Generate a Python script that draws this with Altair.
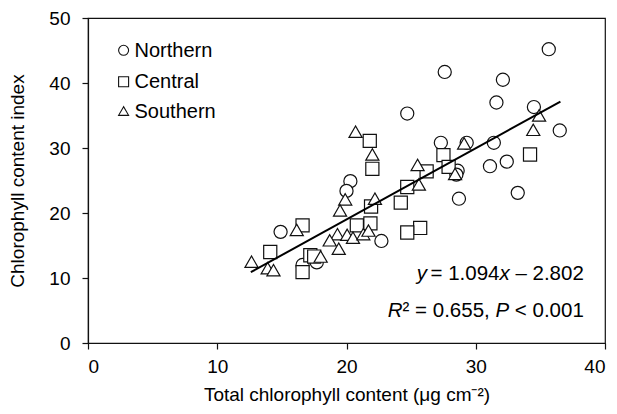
import altair as alt
import pandas as pd

FONT = "Liberation Sans"

regions = ["Northern", "Central", "Southern"]
shapes = ["circle", "square", "triangle-up"]

north_x = [35.65, 27.6, 32.1, 31.6, 34.5, 24.7, 36.5, 27.3, 29.3, 31.4, 32.4, 31.1,
           28.6, 28.5, 28.7, 33.25, 20.3, 20.0, 14.9, 22.7, 16.6, 17.7]
north_y = [45.2, 41.7, 40.5, 37.0, 36.3, 35.3, 32.7, 30.8, 30.8, 30.8, 27.9, 27.2,
           26.5, 25.9, 22.2, 23.1, 24.9, 23.4, 17.1, 15.7, 12.0, 12.4]
central_x = [34.2, 27.5, 27.9, 26.2, 24.7, 24.2, 25.7, 24.7, 21.8, 22.0, 21.9, 21.85,
             20.8, 16.6, 14.1, 16.6, 17.2, 17.5]
central_y = [29.0, 28.9, 27.1, 26.4, 24.0, 21.6, 17.7, 17.0, 31.1, 26.8, 21.0, 18.4,
             18.1, 18.1, 14.0, 10.9, 13.5, 13.3]
south_x = [34.9, 34.45, 29.1, 25.5, 28.4, 25.6, 20.7, 22.0, 22.2, 19.9, 19.5, 19.3,
           20.05, 20.5, 21.3, 21.7, 18.7, 19.4, 18.0, 16.15, 12.65, 13.9, 14.35]
south_y = [35.0, 32.8, 30.7, 27.4, 26.0, 24.4, 32.5, 29.0, 22.2, 22.1, 20.4, 16.75,
           16.65, 16.2, 16.75, 17.3, 15.8, 14.5, 13.3, 17.4, 12.5, 11.5, 11.2]

# regression line endpoints
line_x = [12.6, 36.55]
line_y = [10.9, 37.15]

# annotation anchor (right edge, baselines) in data units
ann_x = 38.36
ann_y = [9.64, 3.96]
eq_parts = ["y", "= 1.094", "x", "– 2.802"]
eq_italic = [True, False, True, False]
r2_parts = ["R", "² = 0.655,", "P", "< 0.001"]
r2_italic = [True, False, True, False]

x_ticks = [0, 10, 20, 30, 40]
y_ticks = [0, 10, 20, 30, 40, 50]

rows = []
for name, xs, ys in [("Northern", north_x, north_y), ("Central", central_x, central_y),
                     ("Southern", south_x, south_y)]:
    for a, b in zip(xs, ys):
        rows.append({"region": name, "tcc": a, "cci": b})
df = pd.DataFrame(rows)
df["order"] = df["region"].map({r: i for i, r in enumerate(regions)})

xscale = alt.Scale(domain=[0, 40], nice=False, zero=False)
yscale = alt.Scale(domain=[0, 50], nice=False, zero=False)
shape_scale = alt.Scale(domain=regions, range=shapes)

STROKE = "#111111"

points = alt.Chart(df).mark_point(
    filled=False, fill="white", color=STROKE, strokeWidth=1.2, size=172, opacity=1
).encode(
    x=alt.X("tcc:Q", scale=xscale, axis=alt.Axis(values=x_ticks, title="Total chlorophyll content (μg cm⁻²)")),
    y=alt.Y("cci:Q", scale=yscale, axis=alt.Axis(values=y_ticks, title="Chlorophyll content index")),
    shape=alt.Shape("region:N", scale=shape_scale, legend=None),
    order=alt.Order("order:Q"),
)

line_df = pd.DataFrame({"tcc": line_x, "cci": line_y})
line = alt.Chart(line_df).mark_line(color="black", strokeWidth=2).encode(
    x=alt.X("tcc:Q", scale=xscale), y=alt.Y("cci:Q", scale=yscale)
)

# legend drawn inside the plot area (pixel layout relative to the plot)
LEG_SYM_X = 35.6
LEG_TXT_X = 46.5
LEG_ROW_Y = [32.3, 63.8, 93.0]
legend_layers = []
for i, r in enumerate(regions):
    d = pd.DataFrame({"region": [r]})
    legend_layers.append(
        alt.Chart(d).mark_point(filled=False, fill="white", color=STROKE, strokeWidth=1.1,
                                size=100, opacity=1).encode(
            x=alt.value(LEG_SYM_X), y=alt.value(LEG_ROW_Y[i]),
            shape=alt.Shape("region:N", scale=shape_scale, legend=None))
    )
    legend_layers.append(
        alt.Chart(d).mark_text(align="left", baseline="middle", fontSize=20, font=FONT,
                               color="black").encode(
            x=alt.value(LEG_TXT_X), y=alt.value(LEG_ROW_Y[i] + 0.5), text="region:N")
    )

FS = 20.5
W = {"0": 556, "1": 556, "2": 556, "3": 556, "4": 556, "5": 556, "6": 556, "7": 556,
     "8": 556, "9": 556, ".": 278, ",": 278, " ": 278, "–": 556, "=": 584, "<": 584,
     "x": 500, "y": 500, "R": 722, "P": 667, "²": 333}


def tw(s):
    return sum(W.get(c, 556) for c in s) * FS / 1000.0


def text_layers(parts, italic, yv, gaps):
    layers = []
    off = 0.0
    for i in range(len(parts) - 1, -1, -1):
        p = parts[i]
        d = pd.DataFrame({"tcc": [ann_x], "cci": [yv], "t": [p]})
        layers.append(
            alt.Chart(d).mark_text(align="right", baseline="alphabetic", dx=-off, fontSize=FS,
                                   font=FONT, fontStyle="italic" if italic[i] else "normal",
                                   color="black").encode(
                x=alt.X("tcc:Q", scale=xscale), y=alt.Y("cci:Q", scale=yscale), text="t:N")
        )
        off += tw(p)
        if i > 0:
            off += gaps[i - 1]
    return layers


sp = tw(" ")
eq_layers = text_layers(eq_parts, eq_italic, ann_y[0], [3.5, 0, sp])
r2_layers = text_layers(r2_parts, r2_italic, ann_y[1], [0, sp, sp])

chart = alt.layer(points, line, *legend_layers, *eq_layers, *r2_layers).properties(
    width=517, height=325,
    padding={"left": 80, "top": 10, "right": 2, "bottom": 62},
    autosize=alt.AutoSizeParams(type="none"),
).configure_view(
    stroke=STROKE, strokeWidth=1.2
).configure_axis(
    grid=False, domainColor=STROKE, domainWidth=1.2, tickColor=STROKE, tickWidth=1.2,
    tickSize=6, labelFont=FONT, labelFontSize=19, labelColor="black",
    titleFont=FONT, titleFontSize=19, titleFontWeight="normal", titleColor="black",
).configure_axisX(
    labelPadding=8, titlePadding=9
).configure_axisY(
    labelPadding=12, titlePadding=21
)

chart.save("out.html", embed_options={"renderer": "svg", "actions": False})
